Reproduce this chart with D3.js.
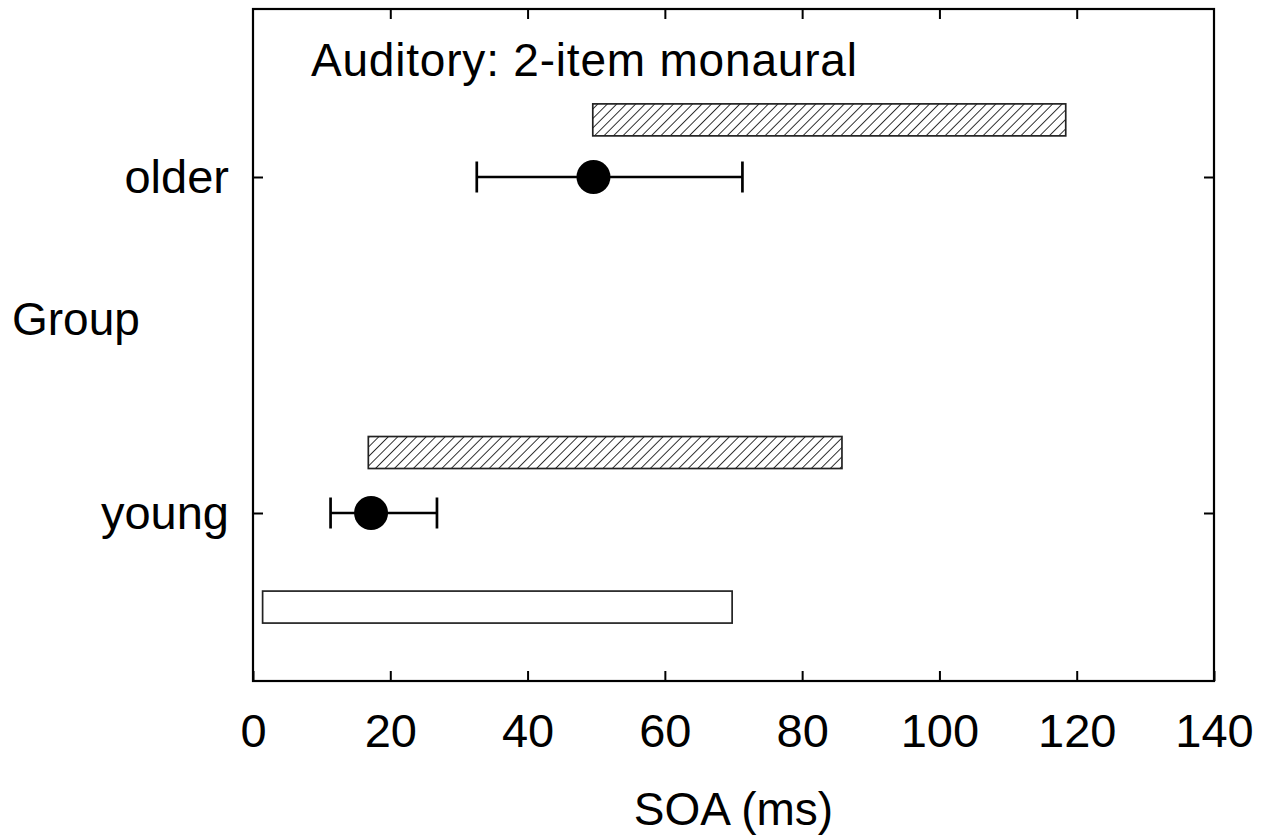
<!DOCTYPE html>
<html>
<head>
<meta charset="utf-8">
<script src="https://cdn.jsdelivr.net/npm/d3@7"></script>
<style>
  body { margin: 0; background: #fff; }
  text { font-family: "Liberation Sans", Arial, sans-serif; fill: #000; }
</style>
</head>
<body>
<div id="chart"></div>
<script>
// chart values
const groups = ["young", "older"];
const groupPos = [1, 2];
const meanSOA = [17.2, 49.6];
const errLow = [11.3, 32.6];
const errHigh = [26.8, 71.3];

// hatched bars (one per group)
const hatchStart = [16.8, 49.5];
const hatchEnd = [85.8, 118.4];
const hatchPos = [1.18, 2.17];

// open bar
const openStart = [1.4];
const openEnd = [69.8];
const openPos = [0.72];

const xTicks = [0, 20, 40, 60, 80, 100, 120, 140];

const width = 1272;
const height = 838;
const margin = {left: 253, right: 58, top: 9, bottom: 157};
const barHalf = 0.0476;

const svg = d3.select("#chart")
  .append("svg")
  .attr("width", width)
  .attr("height", height);

const x = d3.scaleLinear()
  .domain([0, 140])
  .range([margin.left, width - margin.right]);

const y = d3.scaleLinear()
  .domain([0.5, 2.5])
  .range([height - margin.bottom, margin.top]);

// hatch pattern
svg.append("defs").append("pattern")
  .attr("id", "hatch")
  .attr("patternUnits", "userSpaceOnUse")
  .attr("width", 6.7)
  .attr("height", 6.7)
  .attr("patternTransform", "rotate(45)")
  .append("line")
    .attr("x1", 0).attr("y1", 0)
    .attr("x2", 0).attr("y2", 6.7)
    .attr("stroke", "#000")
    .attr("stroke-width", 1.6);

// frame
svg.append("rect")
  .attr("x", x(0))
  .attr("y", y(2.5))
  .attr("width", x(140) - x(0))
  .attr("height", y(0.5) - y(2.5))
  .attr("fill", "none")
  .attr("stroke", "#000")
  .attr("stroke-width", 2.2);

// axes with inward ticks
const styleAxis = g => {
  g.select(".domain").remove();
  g.selectAll(".tick line").attr("stroke", "#000").attr("stroke-width", 2);
  g.selectAll("text").attr("font-size", "47px").attr("font-family", "Liberation Sans, Arial, sans-serif");
};

svg.append("g")
  .attr("transform", `translate(0,${y(0.5)})`)
  .call(d3.axisBottom(x).tickValues(xTicks).tickSize(-10).tickPadding(33).tickFormat(d3.format("d")))
  .call(styleAxis);

svg.append("g")
  .attr("transform", `translate(0,${y(2.5)})`)
  .call(d3.axisTop(x).tickValues(xTicks.slice(1, -1)).tickSize(-10).tickFormat(""))
  .call(styleAxis);

svg.append("g")
  .attr("transform", `translate(${x(0)},0)`)
  .call(d3.axisLeft(y).tickValues(groupPos).tickSize(-10).tickPadding(24).tickFormat((d, i) => groups[i]))
  .call(styleAxis);

svg.append("g")
  .attr("transform", `translate(${x(140)},0)`)
  .call(d3.axisRight(y).tickValues(groupPos).tickSize(-10).tickFormat(""))
  .call(styleAxis);

// hatched bars
svg.selectAll(".hbar")
  .data(hatchStart)
  .enter()
  .append("rect")
    .attr("class", "hbar")
    .attr("x", d => x(d))
    .attr("y", (d, i) => y(hatchPos[i] + barHalf))
    .attr("width", (d, i) => x(hatchEnd[i]) - x(d))
    .attr("height", (d, i) => y(hatchPos[i] - barHalf) - y(hatchPos[i] + barHalf))
    .attr("fill", "url(#hatch)")
    .attr("stroke", "#222")
    .attr("stroke-width", 1.7);

// open bar
svg.selectAll(".obar")
  .data(openStart)
  .enter()
  .append("rect")
    .attr("class", "obar")
    .attr("x", d => x(d))
    .attr("y", (d, i) => y(openPos[i] + barHalf))
    .attr("width", (d, i) => x(openEnd[i]) - x(d))
    .attr("height", (d, i) => y(openPos[i] - barHalf) - y(openPos[i] + barHalf))
    .attr("fill", "#fff")
    .attr("stroke", "#222")
    .attr("stroke-width", 1.7);

// error bars
const err = svg.selectAll(".err")
  .data(meanSOA)
  .enter()
  .append("g")
    .attr("class", "err");

err.append("line")
  .attr("x1", (d, i) => x(errLow[i]))
  .attr("x2", (d, i) => x(errHigh[i]))
  .attr("y1", (d, i) => y(groupPos[i]))
  .attr("y2", (d, i) => y(groupPos[i]))
  .attr("stroke", "#000").attr("stroke-width", 2.7);

[errLow, errHigh].forEach(arr => {
  err.append("line")
    .attr("x1", (d, i) => x(arr[i]))
    .attr("x2", (d, i) => x(arr[i]))
    .attr("y1", (d, i) => y(groupPos[i]) - 15.5)
    .attr("y2", (d, i) => y(groupPos[i]) + 15.5)
    .attr("stroke", "#000").attr("stroke-width", 2.7);
});

err.append("circle")
  .attr("cx", d => x(d))
  .attr("cy", (d, i) => y(groupPos[i]))
  .attr("r", 17)
  .attr("fill", "#000");

// labels
svg.append("text")
  .attr("x", 311)
  .attr("y", 76)
  .attr("font-size", "46px")
  .attr("letter-spacing", "0.8px")
  .text("Auditory: 2-item monaural");

svg.append("text")
  .attr("x", 12)
  .attr("y", 335)
  .attr("font-size", "46px")
  .text("Group");

svg.append("text")
  .attr("x", (x(0) + x(140)) / 2)
  .attr("y", 825)
  .attr("text-anchor", "middle")
  .attr("font-size", "46px")
  .text("SOA (ms)");
</script>
</body>
</html>
